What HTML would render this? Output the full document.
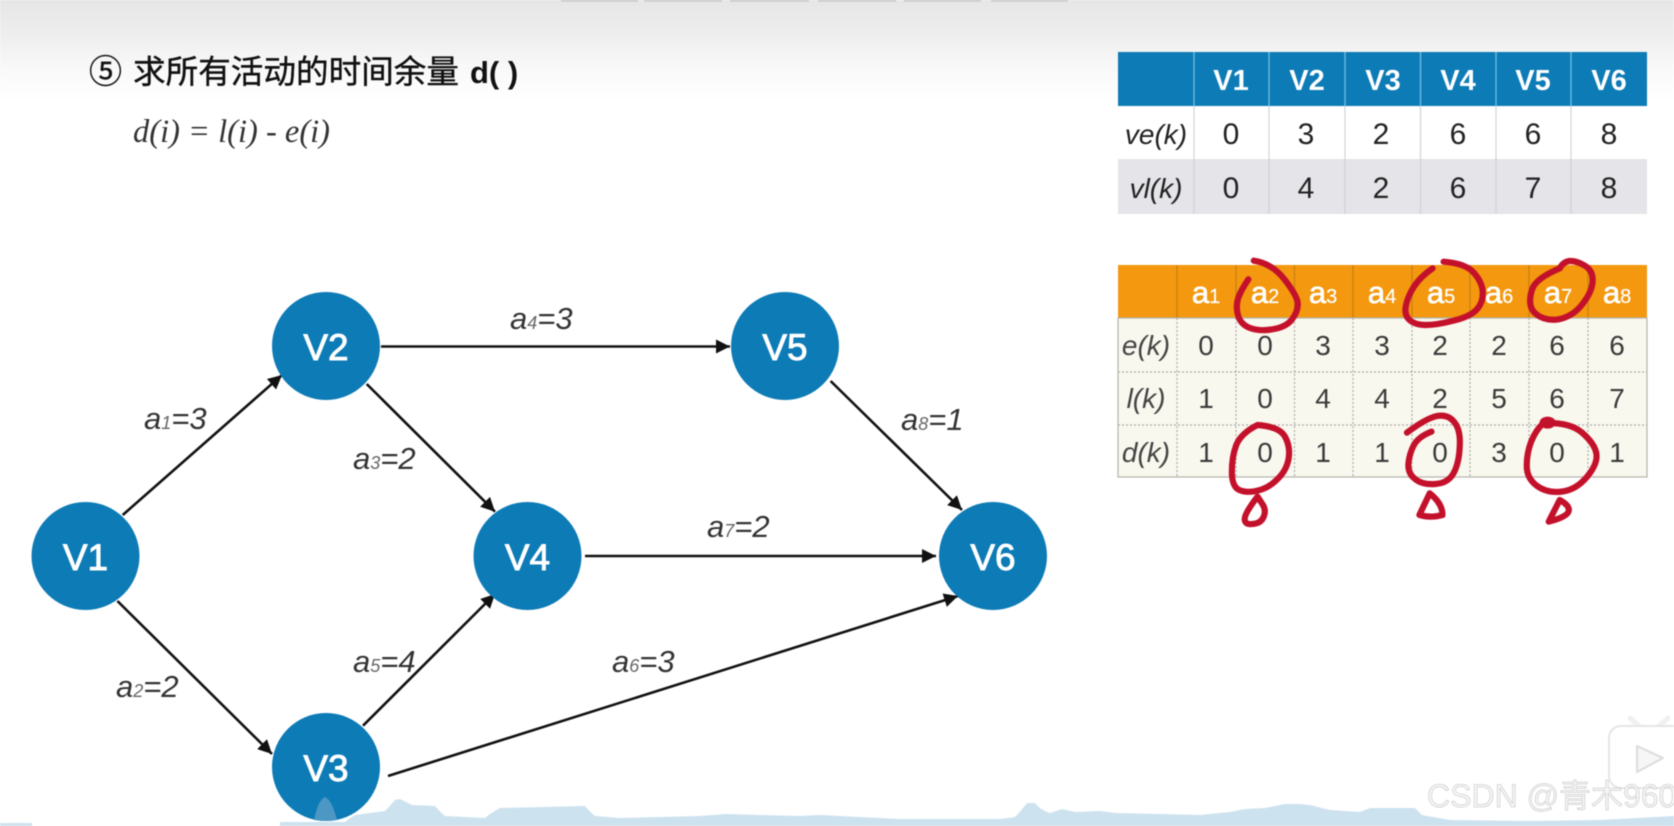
<!DOCTYPE html>
<html>
<head>
<meta charset="utf-8">
<style>
html,body{margin:0;padding:0;background:#fff;width:1674px;height:826px;overflow:hidden}
svg{display:block;filter:blur(0.6px)}
text{font-family:"Liberation Sans","Noto Sans CJK SC",sans-serif}
.n{font-size:37px;fill:#fff;text-anchor:middle;stroke:#fff;stroke-width:.9}
.l{font-size:31px;font-style:italic;fill:#333}
.l tspan{font-size:18px;fill:#666}
.h1{font-size:29px;font-weight:bold;fill:#fff;text-anchor:middle}
.d1{font-size:30px;fill:#222;text-anchor:middle}
.i1{font-size:28px;font-style:italic;fill:#222;text-anchor:middle}
.h2{font-size:31px;fill:#fff;text-anchor:middle;stroke:#fff;stroke-width:.7}
.h2 tspan{font-size:20px;stroke-width:.2}
.d2{font-size:28px;fill:#3a3a3a;text-anchor:middle}
.i2{font-size:28px;font-style:italic;fill:#444;text-anchor:middle}
.e{stroke:#111;stroke-width:2.6;fill:none;marker-end:url(#ah)}
.r{fill:none;stroke:#c4112b;stroke-width:6.2;stroke-linecap:round;stroke-linejoin:round;vector-effect:non-scaling-stroke}
</style>
</head>
<body>
<svg width="1674" height="826" viewBox="0 0 1674 826" xmlns="http://www.w3.org/2000/svg">
<defs>
<linearGradient id="top" x1="0" y1="0" x2="0" y2="1">
<stop offset="0" stop-color="#e6e6e6"/>
<stop offset="0.35" stop-color="#eeeeee"/>
<stop offset="0.65" stop-color="#f8f8f8"/>
<stop offset="1" stop-color="#ffffff"/>
</linearGradient>
<marker id="ah" markerUnits="userSpaceOnUse" markerWidth="16" markerHeight="14" refX="14" refY="7" orient="auto">
<path d="M0,0 L14,7 L0,14 Z" fill="#111"/>
</marker>
</defs>

<rect width="1674" height="826" fill="#fff"/>
<rect width="1674" height="100" fill="url(#top)"/>
<g fill="#c4c4c4">
<rect x="561" y="0" width="77" height="1.5"/><rect x="644" y="0" width="78" height="1.5"/>
<rect x="730" y="0" width="79" height="1.5"/><rect x="818" y="0" width="78" height="1.5"/>
<rect x="904" y="0" width="77" height="1.5"/><rect x="991" y="0" width="77" height="1.5"/>
</g>

<!-- Title -->
<text x="89" y="83" font-size="33" fill="#111" stroke="#111" stroke-width=".4">⑤</text>
<text x="133" y="83" font-size="32.6" fill="#111" stroke="#111" stroke-width=".4" textLength="326" lengthAdjust="spacing">求所有活动的时间余量</text>
<text x="470" y="83" font-size="31" font-weight="bold" fill="#111">d( )</text>
<text x="133" y="142" font-size="33" font-style="italic" fill="#333" style="font-family:'Liberation Serif',serif" textLength="197" lengthAdjust="spacingAndGlyphs">d(i) = l(i) - e(i)</text>

<!-- Bottom wave -->
<path fill="#cde2ef" d="M0,823 H32 V826 H0 Z"/>
<path fill="#cde2ef" d="M280,822 L345,822 Q350,818 355,815 L385,811 Q390,806 395,800 L400,799 L412,805 L435,806 Q440,812 445,816 L485,818 Q492,812 500,808 L585,806 Q590,812 595,816 L620,818 L700,816 L725,814 L760,815 L800,816 L820,815 L860,817 L900,819 L1000,819 L1015,817 Q1020,812 1027,803 L1035,803 Q1040,810 1050,813 L1062,809 L1075,812 L1100,811 L1115,813 L1160,814 L1200,815 L1230,812 L1245,809 L1265,808 L1285,804 L1300,804 L1310,805 L1330,810 L1360,812 L1370,808 L1415,808 L1422,815 L1450,820 L1530,821 L1600,820 L1674,816 V826 H280 Z"/>

<!-- Edges -->
<line class="e" x1="122.7" y1="515" x2="282" y2="375"/>
<line class="e" x1="117.4" y1="601" x2="272" y2="754"/>
<line class="e" x1="366.7" y1="384" x2="495" y2="511.7"/>
<line class="e" x1="381" y1="346.5" x2="730" y2="346.5"/>
<line class="e" x1="363" y1="725.7" x2="495" y2="594"/>
<line class="e" x1="388" y1="776" x2="958" y2="596"/>
<line class="e" x1="585" y1="556" x2="936" y2="556"/>
<line class="e" x1="830.6" y1="381" x2="962" y2="510"/>

<!-- Nodes -->
<g fill="#0d7bb6">
<circle cx="85.5" cy="556" r="54"/>
<circle cx="326" cy="346" r="54"/>
<circle cx="326" cy="767" r="54"/>
<circle cx="527.5" cy="556" r="54"/>
<circle cx="785" cy="346" r="54"/>
<circle cx="993" cy="556" r="54"/>
</g>
<path d="M314,820 Q318,800 325,797 Q332,800 337,820 Q326,822 314,820Z" fill="#4c97c4"/>
<text class="n" x="85.5" y="570">V1</text>
<text class="n" x="326" y="360">V2</text>
<text class="n" x="326" y="781">V3</text>
<text class="n" x="527.5" y="570">V4</text>
<text class="n" x="785" y="360">V5</text>
<text class="n" x="993" y="570">V6</text>

<!-- Edge labels -->
<text class="l" x="144" y="429">a<tspan>1</tspan>=3</text>
<text class="l" x="116" y="697">a<tspan>2</tspan>=2</text>
<text class="l" x="353" y="469">a<tspan>3</tspan>=2</text>
<text class="l" x="510" y="329">a<tspan>4</tspan>=3</text>
<text class="l" x="353" y="672">a<tspan>5</tspan>=4</text>
<text class="l" x="612" y="672">a<tspan>6</tspan>=3</text>
<text class="l" x="707" y="537">a<tspan>7</tspan>=2</text>
<text class="l" x="901" y="430">a<tspan>8</tspan>=1</text>

<!-- Table 1 -->
<rect x="1118" y="52" width="529" height="54" fill="#0d7bb6"/>
<rect x="1118" y="106" width="529" height="53" fill="#fff"/>
<rect x="1118" y="159" width="529" height="55" fill="#e4e4e9"/>
<g stroke="#6bbbe0" stroke-width="1.4">
<line x1="1194" y1="52" x2="1194" y2="106"/><line x1="1269" y1="52" x2="1269" y2="106"/>
<line x1="1345" y1="52" x2="1345" y2="106"/><line x1="1420.5" y1="52" x2="1420.5" y2="106"/>
<line x1="1496" y1="52" x2="1496" y2="106"/><line x1="1571" y1="52" x2="1571" y2="106"/>
</g>
<g stroke="#d2d2d6" stroke-width="1.2">
<line x1="1194" y1="106" x2="1194" y2="214"/><line x1="1269" y1="106" x2="1269" y2="214"/>
<line x1="1345" y1="106" x2="1345" y2="214"/><line x1="1420.5" y1="106" x2="1420.5" y2="214"/>
<line x1="1496" y1="106" x2="1496" y2="214"/><line x1="1571" y1="106" x2="1571" y2="214"/>
</g>
<text class="h1" x="1231" y="90">V1</text><text class="h1" x="1307" y="90">V2</text><text class="h1" x="1383" y="90">V3</text><text class="h1" x="1458" y="90">V4</text><text class="h1" x="1533" y="90">V5</text><text class="h1" x="1609" y="90">V6</text>
<text class="i1" x="1156" y="144">ve(k)</text>
<text class="d1" x="1231" y="144">0</text><text class="d1" x="1306" y="144">3</text><text class="d1" x="1381" y="144">2</text><text class="d1" x="1458" y="144">6</text><text class="d1" x="1533" y="144">6</text><text class="d1" x="1609" y="144">8</text>
<text class="i1" x="1156" y="198">vl(k)</text>
<text class="d1" x="1231" y="198">0</text><text class="d1" x="1306" y="198">4</text><text class="d1" x="1381" y="198">2</text><text class="d1" x="1458" y="198">6</text><text class="d1" x="1533" y="198">7</text><text class="d1" x="1609" y="198">8</text>

<!-- Table 2 -->
<rect x="1118" y="265" width="529" height="53" fill="#f3980f"/>
<rect x="1118" y="318" width="529" height="159" fill="#f9f8ee"/>
<g stroke="#c67f12" stroke-width="1.2">
<line x1="1177" y1="265" x2="1177" y2="318"/><line x1="1236" y1="265" x2="1236" y2="318"/>
<line x1="1294.5" y1="265" x2="1294.5" y2="318"/><line x1="1353" y1="265" x2="1353" y2="318"/>
<line x1="1412" y1="265" x2="1412" y2="318"/><line x1="1470" y1="265" x2="1470" y2="318"/>
<line x1="1529" y1="265" x2="1529" y2="318"/><line x1="1588" y1="265" x2="1588" y2="318"/>
</g>
<g stroke="#aaa" stroke-width="1.2" stroke-dasharray="2 2">
<line x1="1177" y1="318" x2="1177" y2="477"/><line x1="1236" y1="318" x2="1236" y2="477"/>
<line x1="1294.5" y1="318" x2="1294.5" y2="477"/><line x1="1353" y1="318" x2="1353" y2="477"/>
<line x1="1412" y1="318" x2="1412" y2="477"/><line x1="1470" y1="318" x2="1470" y2="477"/>
<line x1="1529" y1="318" x2="1529" y2="477"/><line x1="1588" y1="318" x2="1588" y2="477"/>
<line x1="1118" y1="372" x2="1647" y2="372"/><line x1="1118" y1="425" x2="1647" y2="425"/>
</g>
<rect x="1118" y="318" width="529" height="159" fill="none" stroke="#b4b4ac" stroke-width="1.2"/>
<text class="h2" x="1206" y="303">a<tspan>1</tspan></text><text class="h2" x="1265" y="303">a<tspan>2</tspan></text><text class="h2" x="1323" y="303">a<tspan>3</tspan></text><text class="h2" x="1382" y="303">a<tspan>4</tspan></text><text class="h2" x="1441" y="303">a<tspan>5</tspan></text><text class="h2" x="1499" y="303">a<tspan>6</tspan></text><text class="h2" x="1558" y="303">a<tspan>7</tspan></text><text class="h2" x="1617" y="303">a<tspan>8</tspan></text>
<text class="i2" x="1146" y="355">e(k)</text>
<text class="d2" x="1206" y="355">0</text><text class="d2" x="1265" y="355">0</text><text class="d2" x="1323" y="355">3</text><text class="d2" x="1382" y="355">3</text><text class="d2" x="1440" y="355">2</text><text class="d2" x="1499" y="355">2</text><text class="d2" x="1557" y="355">6</text><text class="d2" x="1617" y="355">6</text>
<text class="i2" x="1146" y="408">l(k)</text>
<text class="d2" x="1206" y="408">1</text><text class="d2" x="1265" y="408">0</text><text class="d2" x="1323" y="408">4</text><text class="d2" x="1382" y="408">4</text><text class="d2" x="1440" y="408">2</text><text class="d2" x="1499" y="408">5</text><text class="d2" x="1557" y="408">6</text><text class="d2" x="1617" y="408">7</text>
<text class="i2" x="1146" y="462">d(k)</text>
<text class="d2" x="1206" y="462">1</text><text class="d2" x="1265" y="462">0</text><text class="d2" x="1323" y="462">1</text><text class="d2" x="1382" y="462">1</text><text class="d2" x="1440" y="462">0</text><text class="d2" x="1499" y="462">3</text><text class="d2" x="1557" y="462">0</text><text class="d2" x="1617" y="462">1</text>

<!-- Red annotations -->
<g transform="translate(1100,240) scale(0.3663,0.3333)">
<path class="r" d="M420,62 Q470,70 505,120 Q540,170 540,192 Q540,215 525,237 Q510,260 475,267 Q440,275 412,265 Q385,255 377,227 Q370,200 377,175 Q385,150 405,118"/>
<path class="r" d="M938,65 Q1000,70 1022,100 Q1045,130 1045,160 Q1045,190 1027,210 Q1010,230 965,242 Q920,255 890,255 Q860,255 845,240 Q830,225 835,197 Q840,170 857,140 Q875,110 908,85"/>
<path class="r" d="M1255,85 Q1190,115 1180,147 Q1170,180 1177,202 Q1185,225 1212,235 Q1240,245 1270,232 Q1300,220 1322,185 Q1345,150 1345,120 Q1345,90 1322,76 Q1300,62 1282,63 Q1265,65 1255,85"/>
<path class="r" d="M430,555 Q490,560 505,590 Q520,620 515,655 Q510,690 485,717 Q460,745 430,752 Q400,760 380,750 Q360,740 360,695 Q360,650 372,615 Q385,580 430,555Z"/>
<path class="r" d="M430,770 Q395,820 395,837 Q395,855 417,852 Q440,850 447,830 Q455,810 442,790 Q436,780 430,770Z"/>
<path class="r" d="M838,578 Q890,535 920,528 Q950,522 967,546 Q985,570 982,620 Q980,670 965,700 Q950,730 915,732 Q880,735 860,717 Q840,700 842,670 Q845,640 857,615 Q870,590 905,575"/>
<path class="r" d="M900,760 L872,825 Q900,835 935,825 Q935,790 900,760Z"/>
<path class="r" d="M1210,550 Q1280,545 1315,577 Q1350,610 1355,640 Q1360,670 1330,710 Q1300,750 1260,755 Q1220,760 1192,737 Q1165,715 1165,677 Q1165,640 1177,605 Q1190,570 1210,550Z"/>
<ellipse cx="1222" cy="548" rx="22" ry="18" fill="#c4112b"/>
<path class="r" d="M1255,780 L1225,845 Q1280,830 1280,810 Q1280,795 1255,780Z"/>
</g>

<!-- Watermark icon -->
<g fill="#fff" stroke="#e6e6e6" stroke-width="2">
<path d="M1630,718 L1640,727 M1668,718 L1658,727" stroke-width="5" stroke="#f0f0f0" stroke-linecap="round" fill="none"/>
<rect x="1609" y="726" width="90" height="62" rx="12"/>
<path d="M1637,746 L1663,758 L1637,772 Z" stroke-linejoin="round" fill="#f6f6f6" stroke="#dcdcdc"/>
</g>
<text x="1427" y="807" font-size="32" fill="#f6f6f6" stroke="#bcbcbc" stroke-width=".5">CSDN @青木960</text>
</svg>
</body>
</html>
